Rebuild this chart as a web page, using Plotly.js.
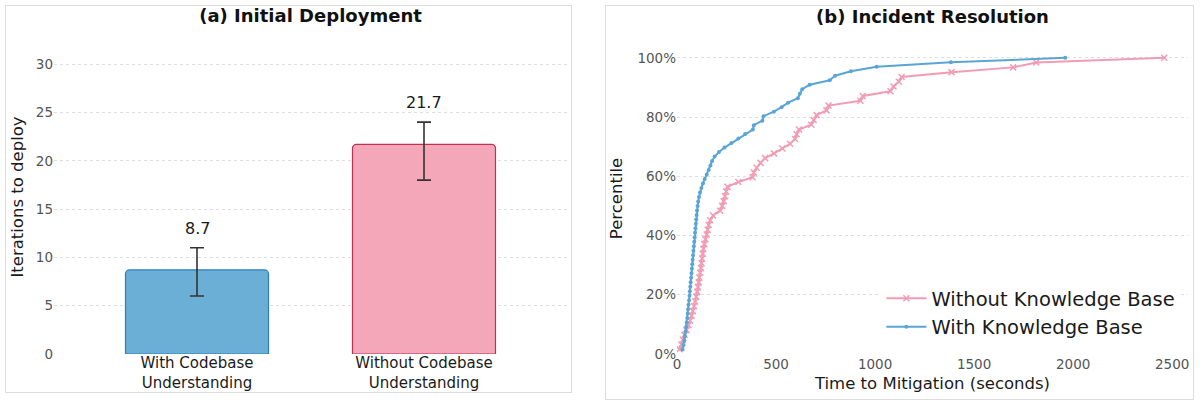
<!DOCTYPE html>
<html>
<head>
<meta charset="utf-8">
<script src="https://cdn.plot.ly/plotly-3.0.1.min.js"></script>
<style>
  html, body { margin: 0; padding: 0; background: #ffffff; width: 1200px; height: 406px; overflow: hidden; }
  .panel { position: absolute; border: 1px solid #dcdcdc; background: #fff; }
  #left { left: 5px; top: 5px; width: 565px; height: 386px; }
  #right { left: 605px; top: 5px; width: 587px; height: 393px; }
</style>
</head>
<body>
<div id="left" class="panel"></div>
<div id="right" class="panel"></div>
<script>
// ---------- Panel (a): Initial Deployment ----------
const barCategories = ["With Codebase<br>Understanding", "Without Codebase<br>Understanding"];
const barValues = [8.7, 21.7];
const barErrPlus = [2.3, 2.3];
const barErrMinus = [2.7, 3.7];
const barTickVals = [0, 5, 10, 15, 20, 25, 30];

// ---------- Panel (b): Incident Resolution (ECDF) ----------
const withKbSeconds = [28, 33, 37, 40, 43, 46, 49, 52, 54, 56, 58, 61, 63, 65, 67, 69, 71, 73, 75, 77,
  79, 81, 83, 85, 87, 89, 91, 93, 95, 97, 99, 101, 104, 107, 111, 116, 123, 131, 140, 150,
  160, 169, 177, 190, 212, 240, 275, 310, 344, 383, 388, 431, 437, 489, 528, 561, 610, 620, 632, 670,
  771, 798, 878, 1008, 1383, 1960];
const withKbPercentile = [1.52, 3.03, 4.55, 6.06, 7.58, 9.09, 10.61, 12.12, 13.64, 15.15, 16.67, 18.18, 19.70, 21.21, 22.73, 24.24, 25.76, 27.27, 28.79, 30.30,
  31.82, 33.33, 34.85, 36.36, 37.88, 39.39, 40.91, 42.42, 43.94, 45.45, 46.97, 48.48, 50.00, 51.52, 53.03, 54.55, 56.06, 57.58, 59.09, 60.61,
  62.12, 63.64, 65.15, 66.67, 68.18, 69.70, 71.21, 72.73, 74.24, 75.76, 77.27, 78.79, 80.30, 81.82, 83.33, 84.85, 86.36, 87.88, 89.39, 90.91,
  92.42, 93.94, 95.45, 96.97, 98.48, 100.00];

const withoutKbSeconds = [12, 22, 30, 38, 48, 58, 66, 74, 80, 86, 92, 97, 102, 106, 110, 113, 117, 121, 124, 127,
  130, 133, 138, 143, 150, 155, 160, 168, 182, 218, 228, 236, 242, 248, 255, 310, 382, 388, 402, 422,
  445, 490, 532, 571, 596, 604, 616, 678, 690, 705, 755, 765, 926, 938, 1078, 1093, 1120, 1134, 1386, 1697,
  1814, 2460];
const withoutKbPercentile = [1.61, 3.23, 4.84, 6.45, 8.06, 9.68, 11.29, 12.90, 14.52, 16.13, 17.74, 19.35, 20.97, 22.58, 24.19, 25.81, 27.42, 29.03, 30.65, 32.26,
  33.87, 35.48, 37.10, 38.71, 40.32, 41.94, 43.55, 45.16, 46.77, 48.39, 50.00, 51.61, 53.23, 54.84, 56.45, 58.06, 59.68, 61.29, 62.90, 64.52,
  66.13, 67.74, 69.35, 70.97, 72.58, 74.19, 75.81, 77.42, 79.03, 80.65, 82.26, 83.87, 85.48, 87.10, 88.71, 90.32, 91.94, 93.55, 95.16, 96.77,
  98.39, 100.00];
const percentTickVals = [0, 20, 40, 60, 80, 100];
const percentTickText = ["0%", "20%", "40%", "60%", "80%", "100%"];
const secondsTickVals = [0, 500, 1000, 1500, 2000, 2500];

const FONT = "DejaVu Sans, Liberation Sans, sans-serif";
const GRID = "#dedede";

// ----- Left chart -----
const leftTrace = {
  type: "bar",
  x: barCategories,
  y: barValues,
  width: 0.63,
  marker: {
    color: ["#6BAED6", "#F4A7B9"],
    line: { color: ["#2F7EB8", "#C0304F"], width: 1.2 }
  },
  error_y: {
    type: "data", symmetric: false,
    array: barErrPlus, arrayminus: barErrMinus,
    color: "#333333", thickness: 1.6, width: 7
  },
  hoverinfo: "skip"
};
const leftAnn = barCategories.map((c, i) => ({
  x: c, y: barValues[i] + barErrPlus[i] + 2,
  xref: "x", yref: "y",
  text: barValues[i].toFixed(1),
  showarrow: false, yanchor: "middle",
  font: { family: FONT, size: 16, color: "#1a1a1a" }
}));
const leftLayout = {
  width: 565, height: 386,
  margin: { l: 48, r: 4, t: 34, b: 38 },
  paper_bgcolor: "#ffffff", plot_bgcolor: "#ffffff",
  showlegend: false,
  barcornerradius: 4,
  title: {
    text: "<b>(a) Initial Deployment</b>",
    font: { family: FONT, size: 18, color: "#111111" },
    x: 0.5, xref: "paper", xanchor: "center",
    y: 0.974, yref: "container", yanchor: "middle"
  },
  xaxis: {
    type: "category", range: [-0.63, 1.63],
    showgrid: false, zeroline: false, showline: false, ticks: "",
    ticklabelstandoff: -2,
    tickfont: { family: FONT, size: 15, color: "#1a1a1a" },
    fixedrange: true
  },
  yaxis: {
    range: [0, 32.5], tickvals: barTickVals,
    showgrid: true, gridcolor: GRID, griddash: "dot", gridwidth: 1,
    zeroline: false, showline: false, ticks: "",
    tickfont: { family: FONT, size: 13.5, color: "#555555" },
    title: { text: "Iterations to deploy", font: { family: FONT, size: 16.5, color: "#1a1a1a" }, standoff: 8 },
    fixedrange: true
  },
  annotations: leftAnn
};
Plotly.newPlot("left", [leftTrace], leftLayout, { displayModeBar: false, staticPlot: true });

// ----- Right chart -----
const pinkTrace = {
  type: "scatter", mode: "lines+markers",
  name: "Without Knowledge Base",
  x: withoutKbSeconds, y: withoutKbPercentile,
  line: { color: "#F29CB4", width: 2 },
  marker: { symbol: "x-thin", size: 6, color: "#F29CB4", line: { color: "#F29CB4", width: 1.5 } }
};
const blueTrace = {
  type: "scatter", mode: "lines+markers",
  name: "With Knowledge Base",
  x: withKbSeconds, y: withKbPercentile,
  line: { color: "#5AA5D6", width: 2 },
  marker: { symbol: "circle", size: 4, color: "#5AA5D6" }
};
const rightLayout = {
  width: 587, height: 393,
  margin: { l: 71, r: 5, t: 37, b: 45 },
  paper_bgcolor: "#ffffff", plot_bgcolor: "#ffffff",
  title: {
    text: "<b>(b) Incident Resolution</b>",
    font: { family: FONT, size: 18, color: "#111111" },
    x: 0.5, xref: "paper", xanchor: "center",
    y: 0.972, yref: "container", yanchor: "middle"
  },
  xaxis: {
    range: [0, 2580], tickvals: secondsTickVals,
    showgrid: false, zeroline: false, showline: false, ticks: "",
    tickfont: { family: FONT, size: 13.5, color: "#555555" },
    title: { text: "Time to Mitigation (seconds)", font: { family: FONT, size: 16.5, color: "#1a1a1a" }, standoff: 6 },
    fixedrange: true
  },
  yaxis: {
    range: [0, 105], tickvals: percentTickVals, ticktext: percentTickText,
    showgrid: true, gridcolor: GRID, griddash: "dot", gridwidth: 1,
    zeroline: false, showline: false, ticks: "",
    tickfont: { family: FONT, size: 13.5, color: "#555555" },
    title: { text: "Percentile", font: { family: FONT, size: 16.5, color: "#1a1a1a" }, standoff: 10 },
    fixedrange: true
  },
  legend: {
    x: 0.40, xanchor: "left", y: 0.133, yanchor: "middle",
    bgcolor: "rgba(255,255,255,0.8)", borderwidth: 0,
    itemwidth: 40,
    font: { family: FONT, size: 19.5, color: "#1a1a1a" },
    traceorder: "normal"
  }
};
Plotly.newPlot("right", [pinkTrace, blueTrace], rightLayout, { displayModeBar: false, staticPlot: true });
</script>
</body>
</html>
